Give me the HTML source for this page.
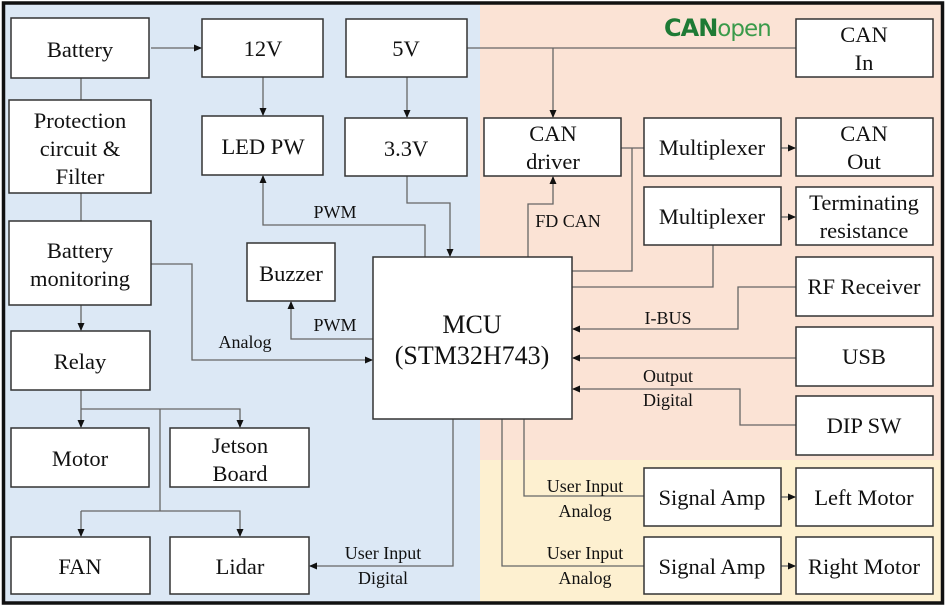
<!DOCTYPE html>
<html><head><meta charset="utf-8"><style>
body{margin:0;background:#fff}
svg{display:block}
text{font-family:"Liberation Serif",serif;fill:#111}
.b{fill:#fff;stroke:#333;stroke-width:1.5}
.l{fill:none;stroke:#666;stroke-width:1.3}
.t{font-size:22.5px;text-anchor:middle}
.s{font-size:18px;text-anchor:middle}
</style></head><body>
<svg width="946" height="607" viewBox="0 0 946 607">
<defs><marker id="a" markerWidth="8" markerHeight="8" refX="7" refY="4" orient="auto" markerUnits="userSpaceOnUse"><path d="M0,0.5 L8,4 L0,7.5z" fill="#111"/></marker></defs>
<rect x="0" y="0" width="946" height="607" fill="#fff"/>
<rect x="5" y="4" width="475" height="598" fill="#dce8f5"/>
<rect x="480" y="4" width="461" height="456" fill="#fbe3d5"/>
<rect x="480" y="460" width="461" height="142" fill="#fdf0d0"/>
<rect x="3.5" y="3" width="939" height="600" fill="none" stroke="#111" stroke-width="3.5"/>
<g class="l">
<path d="M151,48H201" marker-end="url(#a)"/>
<path d="M81,78V100M81,193V221"/>
<path d="M81,305V330" marker-end="url(#a)"/>
<path d="M263,77V115" marker-end="url(#a)"/>
<path d="M407,77V117" marker-end="url(#a)"/>
<path d="M467,48H796"/>
<path d="M553,48V117" marker-end="url(#a)"/>
<path d="M407,176V203H450V256" marker-end="url(#a)"/>
<path d="M425,257V225H263V176" marker-end="url(#a)"/>
<path d="M373,339H291V302" marker-end="url(#a)"/>
<path d="M151,264H192V360H372" marker-end="url(#a)"/>
<path d="M81,390V427" marker-end="url(#a)"/>
<path d="M81,409H240V427" marker-end="url(#a)"/>
<path d="M160,409V511"/>
<path d="M81,511V536" marker-end="url(#a)"/>
<path d="M81,511H240V536" marker-end="url(#a)"/>
<path d="M453,419V566H310" marker-end="url(#a)"/>
<path d="M528,257V204H553V177" marker-end="url(#a)"/>
<path d="M621,148H644"/>
<path d="M781,148H795" marker-end="url(#a)"/>
<path d="M781,217H795" marker-end="url(#a)"/>
<path d="M572,271H632V148"/>
<path d="M572,287H713V245"/>
<path d="M796,287H738V329H573" marker-end="url(#a)"/>
<path d="M796,358H573" marker-end="url(#a)"/>
<path d="M796,425H740V389H573" marker-end="url(#a)"/>
<path d="M524,419V496H644"/>
<path d="M502,419V566H644"/>
<path d="M781,497H795" marker-end="url(#a)"/>
<path d="M781,566H795" marker-end="url(#a)"/>
</g>
<g class="b">
<rect x="11" y="18" width="138" height="60"/>
<rect x="9" y="100" width="142" height="93"/>
<rect x="9" y="221" width="142" height="84"/>
<rect x="11" y="331" width="139" height="59"/>
<rect x="11" y="428" width="138" height="59"/>
<rect x="170" y="428" width="139" height="59"/>
<rect x="11" y="537" width="139" height="57"/>
<rect x="170" y="537" width="139" height="57"/>
<rect x="202" y="19" width="121" height="58"/>
<rect x="346" y="19" width="121" height="58"/>
<rect x="202" y="116" width="121" height="59"/>
<rect x="345" y="118" width="122" height="58"/>
<rect x="247" y="243" width="88" height="58"/>
<rect x="373" y="257" width="199" height="162"/>
<rect x="796" y="19" width="137" height="58"/>
<rect x="484" y="118" width="137" height="58"/>
<rect x="644" y="118" width="137" height="58"/>
<rect x="644" y="187" width="137" height="58"/>
<rect x="796" y="118" width="137" height="58"/>
<rect x="796" y="187" width="137" height="58"/>
<rect x="796" y="257" width="137" height="59"/>
<rect x="796" y="327" width="137" height="59"/>
<rect x="796" y="396" width="137" height="59"/>
<rect x="644" y="468" width="137" height="58"/>
<rect x="796" y="468" width="137" height="58"/>
<rect x="644" y="537" width="137" height="57"/>
<rect x="796" y="537" width="137" height="57"/>
</g>
<g class="t">
<text x="80" y="57">Battery</text>
<text x="80" y="128">Protection</text><text x="80" y="156">circuit &amp;</text><text x="80" y="184">Filter</text>
<text x="80" y="258">Battery</text><text x="80" y="286">monitoring</text>
<text x="80" y="369">Relay</text>
<text x="80" y="466">Motor</text>
<text x="240" y="453">Jetson</text><text x="240" y="481">Board</text>
<text x="80" y="574">FAN</text>
<text x="240" y="574">Lidar</text>
<text x="263" y="56">12V</text>
<text x="406" y="56">5V</text>
<text x="263" y="154">LED PW</text>
<text x="406" y="156">3.3V</text>
<text x="291" y="281">Buzzer</text>
<text x="472" y="333" style="font-size:26px">MCU</text><text x="472" y="364" style="font-size:26px">(STM32H743)</text>
<text x="864" y="42">CAN</text><text x="864" y="70">In</text>
<text x="553" y="141">CAN</text><text x="553" y="169">driver</text>
<text x="712" y="155">Multiplexer</text>
<text x="712" y="224">Multiplexer</text>
<text x="864" y="141">CAN</text><text x="864" y="169">Out</text>
<text x="864" y="210">Terminating</text><text x="864" y="238">resistance</text>
<text x="864" y="294">RF Receiver</text>
<text x="864" y="364">USB</text>
<text x="864" y="433">DIP SW</text>
<text x="712" y="505">Signal Amp</text>
<text x="864" y="505">Left Motor</text>
<text x="712" y="574">Signal Amp</text>
<text x="864" y="574">Right Motor</text>
</g>
<g class="s">
<text x="335" y="218">PWM</text>
<text x="335" y="331">PWM</text>
<text x="245" y="348">Analog</text>
<text x="383" y="559">User Input</text><text x="383" y="584">Digital</text>
<text x="568" y="227">FD CAN</text>
<text x="668" y="324">I-BUS</text>
<text x="668" y="382">Output</text><text x="668" y="406">Digital</text>
<text x="585" y="492">User Input</text><text x="585" y="517">Analog</text>
<text x="585" y="559">User Input</text><text x="585" y="584">Analog</text>
</g>
<text x="664" y="36" style="font-family:'DejaVu Sans',sans-serif;font-size:24px;font-weight:bold;fill:#1e7a35;letter-spacing:-1px">CAN<tspan style="font-weight:normal;fill:#3a9a4a;font-size:23px">open</tspan></text>
</svg>
</body></html>
